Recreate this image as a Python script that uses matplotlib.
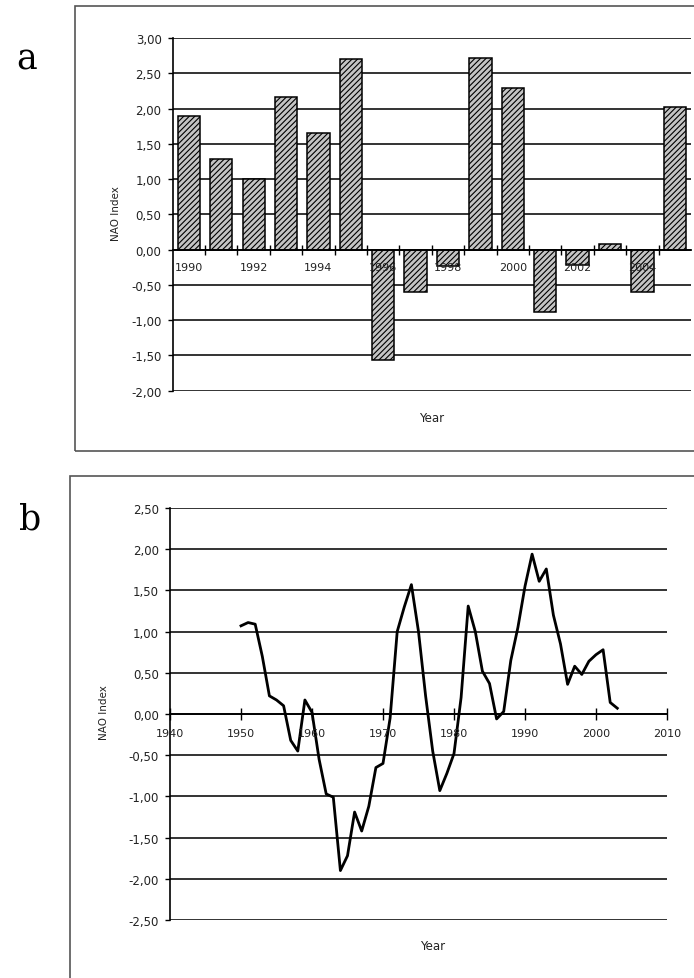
import numpy as np
import matplotlib.pyplot as plt
from matplotlib.patches import Rectangle

plt.rcParams['font.family'] = ['DejaVu Sans']
plt.rcParams['hatch.color'] = '#5a5a5a'
plt.rcParams['hatch.linewidth'] = 0.8

# --- panel a: yearly winter NAO index 1990-2005 ---
years_a = list(range(1990, 2006))
nao_a = [1.90, 1.29, 1.00, 2.16, 1.66, 2.70, -1.57, -0.60, -0.23, 2.71,
         2.29, -0.89, -0.22, 0.08, -0.60, 2.02]
xlabels_a = ['1990', '1992', '1994', '1996', '1998', '2000', '2002', '2004']
yticks_a = [-2.0, -1.5, -1.0, -0.5, 0.0, 0.5, 1.0, 1.5, 2.0, 2.5, 3.0]

# --- panel b: smoothed NAO index 1950-2003 ---
years_b = list(range(1950, 2004))
nao_b = [1.07, 1.11, 1.09, 0.70, 0.22, 0.17, 0.10, -0.32, -0.45, 0.17,
         0.02, -0.55, -0.97, -1.01, -1.90, -1.72, -1.19, -1.42, -1.12, -0.65,
         -0.60, -0.05, 1.00, 1.30, 1.57, 1.00, 0.22, -0.45, -0.93, -0.72,
         -0.48, 0.20, 1.31, 1.00, 0.52, 0.37, -0.06, 0.03, 0.65, 1.05,
         1.55, 1.94, 1.61, 1.76, 1.20, 0.85, 0.36, 0.58, 0.48, 0.64,
         0.72, 0.78, 0.14, 0.07]
xticks_b = [1940, 1950, 1960, 1970, 1980, 1990, 2000, 2010]
yticks_b = [-2.5, -2.0, -1.5, -1.0, -0.5, 0.0, 0.5, 1.0, 1.5, 2.0, 2.5]

W, H = 694, 979


def comma(v):
    return f'{v:.2f}'.replace('.', ',')


def style_axes(ax, yticks):
    ax.set_axisbelow(True)
    ax.set_yticks(yticks)
    ax.set_yticklabels([comma(v) for v in yticks])
    ax.yaxis.grid(True, color='#333333', linewidth=1.4)
    ax.tick_params(axis='y', direction='out', length=3.5, width=1.0,
                   pad=4.5, labelsize=8.5, labelcolor='#222222')
    for s in ['top', 'right']:
        ax.spines[s].set_visible(False)
    ax.spines['left'].set_linewidth(1.2)
    ax.spines['bottom'].set_position(('data', 0))
    ax.spines['bottom'].set_linewidth(1.3)
    ax.xaxis.set_zorder(4)


fig = plt.figure(figsize=(W / 100, H / 100), dpi=100)

# outer frames around each panel
fig.add_artist(Rectangle((75 / W, 1 - 452 / H), 700 / W, 445 / H,
                         transform=fig.transFigure, fill=False,
                         edgecolor='#555555', linewidth=1.2))
fig.add_artist(Rectangle((70 / W, 1 - 1010 / H), 700 / W, 533 / H,
                         transform=fig.transFigure, fill=False,
                         edgecolor='#555555', linewidth=1.2))

# ---- panel a ----
ax1 = fig.add_axes([172.7 / W, 1 - 391.7 / H, 518.3 / W, 352.7 / H])
pos = np.arange(len(years_a))
ax1.bar(pos, nao_a, width=0.69, color='#c4c4c4', edgecolor='black',
        linewidth=1.1, hatch='//////', zorder=2)
ax1.set_xlim(-0.5, len(years_a) - 0.5)
ax1.set_ylim(-2.0, 3.0)
style_axes(ax1, yticks_a)
ax1.set_xticks(pos[:-1] + 0.5)
ax1.set_xticks(pos[::2], minor=True)
ax1.set_xticklabels([], minor=False)
ax1.set_xticklabels(xlabels_a, minor=True)
ax1.tick_params(axis='x', which='major', direction='inout', length=7, width=1.0)
ax1.tick_params(axis='x', which='minor', length=0, pad=9, labelsize=8,
                labelcolor='#222222')
fig.text(432 / W, 1 - 419 / H, 'Year', ha='center', va='center',
         fontsize=8.5, color='#222222')
fig.text(116 / W, 1 - 214 / H, 'NAO Index', ha='center', va='center',
         rotation=90, fontsize=7.5, color='#222222')
fig.text(27 / W, 1 - 69 / H, 'a', ha='center', va='baseline',
         fontsize=25, family='DejaVu Serif')

# ---- panel b ----
ax2 = fig.add_axes([170 / W, 1 - 921 / H, 497 / W, 412 / H])
ax2.plot(years_b, nao_b, color='black', linewidth=2.0, zorder=3)
ax2.set_xlim(1940, 2010)
ax2.set_ylim(-2.5, 2.5)
style_axes(ax2, yticks_b)
ax2.set_xticks(xticks_b)
ax2.set_xticklabels([str(v) for v in xticks_b])
ax2.tick_params(axis='x', direction='inout', length=8, width=1.0, pad=6,
                labelsize=8, labelcolor='#222222')
fig.text(433 / W, 1 - 947 / H, 'Year', ha='center', va='center',
         fontsize=8.5, color='#222222')
fig.text(104 / W, 1 - 713 / H, 'NAO Index', ha='center', va='center',
         rotation=90, fontsize=7.5, color='#222222')
fig.text(30 / W, 1 - 529 / H, 'b', ha='center', va='baseline',
         fontsize=25, family='DejaVu Serif')

fig.savefig('out.png', dpi=100)
